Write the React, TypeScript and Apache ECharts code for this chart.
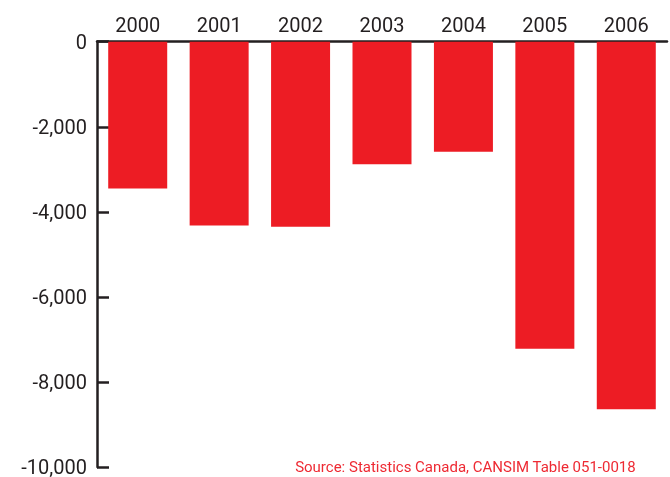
import React, { useEffect, useRef } from "react";
import * as echarts from "echarts";

const years = ["2000", "2001", "2002", "2003", "2004", "2005", "2006"];
const values = [-3450, -4320, -4350, -2880, -2590, -7220, -8640];
const yTicks = { min: -10000, max: 0, interval: 2000 };
const sourceText = "Source: Statistics Canada, CANSIM Table 051-0018";

export default function App() {
  const ref = useRef<HTMLDivElement>(null);
  useEffect(() => {
    if (!ref.current) return;
    const chart = echarts.init(ref.current, null, { renderer: "svg" });
    chart.setOption({
      animation: false,
      grid: { left: 97, right: 3, top: 41.7, bottom: 9, containLabel: false },
      xAxis: {
        type: "category",
        position: "top",
        data: years,
        axisLine: { show: true, lineStyle: { color: "#231f20", width: 2.5 } },
        axisTick: { show: false },
        axisLabel: {
          color: "#231f20",
          fontSize: 20,
          fontFamily: "Roboto",
          margin: 7,
        },
      },
      yAxis: {
        type: "value",
        min: yTicks.min,
        max: yTicks.max,
        interval: yTicks.interval,
        axisLine: { show: true, lineStyle: { color: "#231f20", width: 2.5 } },
        axisTick: { show: true, inside: true, length: 12, lineStyle: { color: "#231f20", width: 2.5 } },
        splitLine: { show: false },
        axisLabel: {
          color: "#231f20",
          fontSize: 20,
          fontFamily: "Roboto",
          margin: 10,
          formatter: (v: number) => v.toLocaleString("en-US"),
        },
      },
      series: [
        {
          type: "bar",
          data: values,
          barWidth: 59,
          itemStyle: { color: "#ed1c24" },
        },
      ],
      graphic: [
        {
          type: "text",
          right: 34,
          top: 459,
          style: {
            text: sourceText,
            fill: "#ee2a33",
            font: "15px Roboto",
          },
        },
      ],
    });
    return () => chart.dispose();
  }, []);
  return <div ref={ref} style={{ width: 670, height: 477, position: "fixed", left: 0, top: 0 }} />;
}
